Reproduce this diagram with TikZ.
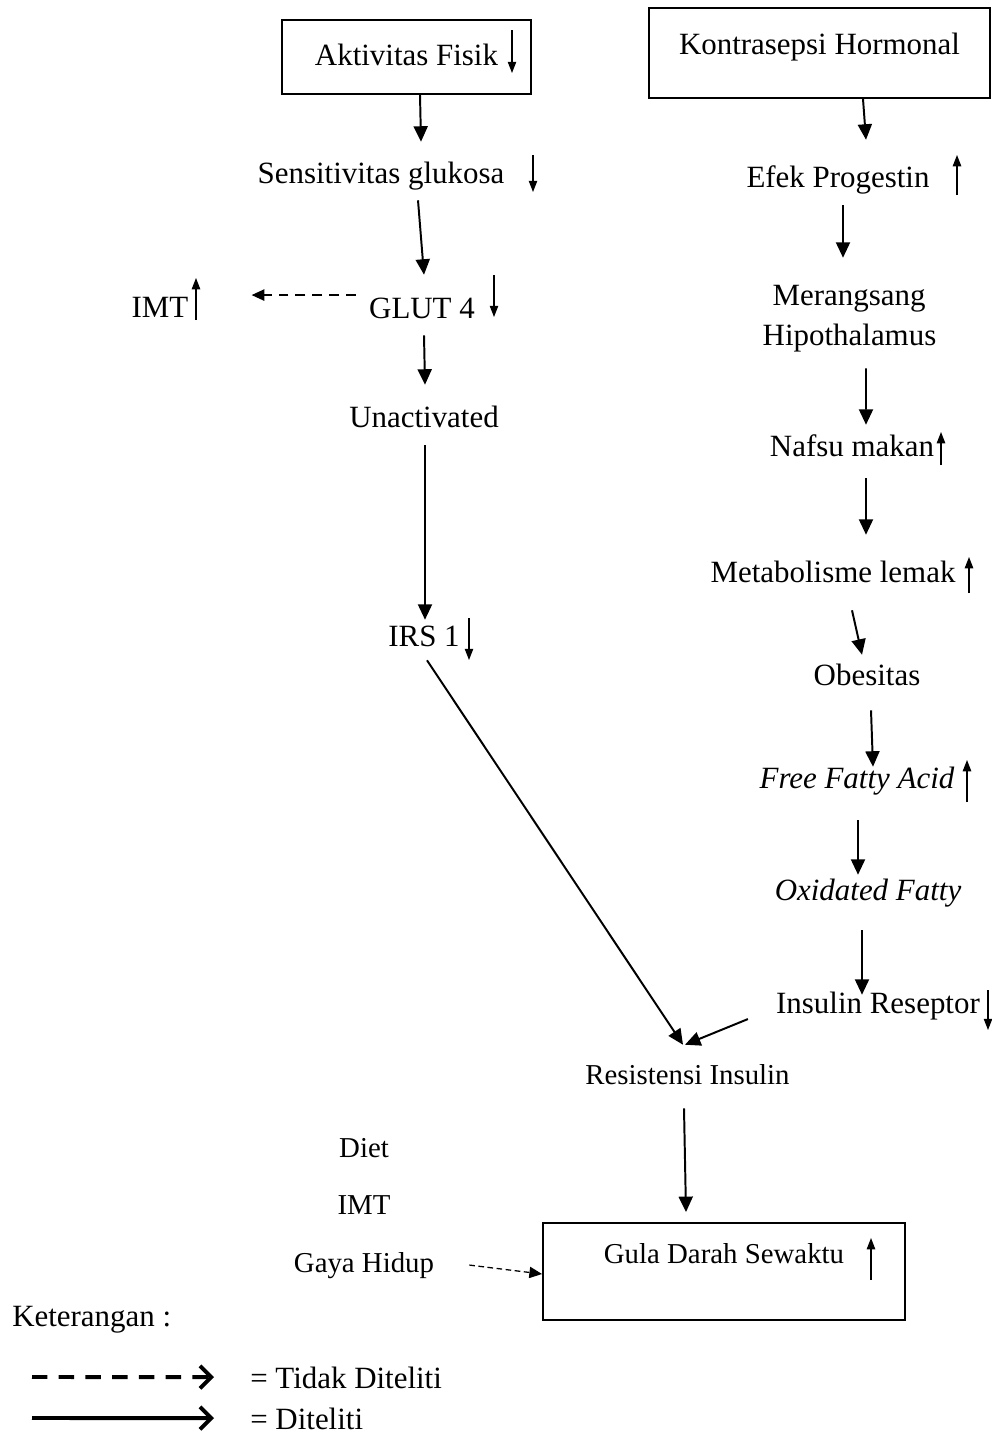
\documentclass[tikz,border=0pt]{standalone}
\usepackage{fontspec}
\setmainfont{Liberation Serif}
\usetikzlibrary{arrows.meta}

\newcommand{\besar}{\fontsize{22}{26}\selectfont}
\newcommand{\sedang}{\fontsize{20.5}{24}\selectfont}

\tikzset{
  kotak/.style={draw, line width=1.3pt, inner sep=0pt, text height=16pt, font=\besar},
  teks/.style={inner sep=0pt, anchor=base, text height=16pt, text depth=4pt, font=\besar},
  teks kecil/.style={teks, font=\sedang},
  alur/.style={line width=1.4pt, -{Triangle[length=11pt,width=10pt]}},
  alur putus/.style={line width=1.1pt, dash pattern=on 7pt off 5pt, -{Triangle[length=9pt,width=8pt]}},
  indik/.style={line width=0.8pt, -{Triangle[length=8pt,width=6pt]}},
  legenda/.style={line width=2.8pt, -{Straight Barb[length=8pt,width=16pt]}}
}

\begin{document}
\begin{tikzpicture}[x=0.025cm, y=-0.025cm]
  \useasboundingbox (0,0) rectangle (992,1434);

  % kolom kiri
  \node[kotak, minimum width=6.225cm, minimum height=1.85cm, text depth=4pt] (aktiv) at (406.5,57) {Aktivitas Fisik};
  \node[teks] (sens) at (381,183) {Sensitivitas glukosa};
  \node[teks] (glut) at (422,318) {GLUT 4};
  \node[teks] (imt) at (160,317) {IMT};
  \node[teks] (unact) at (424,427) {Unactivated};
  \node[teks] (irs) at (424,646) {IRS 1};

  % kolom kanan
  \node[kotak, minimum width=8.525cm, minimum height=2.25cm, text depth=13.2pt] (kontra) at (819.5,53) {Kontrasepsi Hormonal};
  \node[teks] (efek) at (838,187) {Efek Progestin};
  \node[teks] (merang) at (849,305) {Merangsang};
  \node[teks] (hipo) at (849.5,345) {Hipothalamus};
  \node[teks] (nafsu) at (852,456) {Nafsu makan};
  \node[teks] (metab) at (833,582) {Metabolisme lemak};
  \node[teks] (obes) at (867,685) {Obesitas};
  \node[teks] (ffa) at (857,788) {\textit{Free Fatty Acid}};
  \node[teks] (oxid) at (868,900) {\textit{Oxidated Fatty}};
  \node[teks] (insrec) at (878,1013) {Insulin Reseptor};

  % bawah
  \node[teks kecil] (resist) at (687.5,1084) {Resistensi Insulin};
  \node[teks kecil] (diet) at (364,1157) {Diet};
  \node[teks kecil] (imtb) at (364,1214) {IMT};
  \node[teks kecil] (gaya) at (364,1272) {Gaya Hidup};
  \node[kotak, font=\sedang, minimum width=9.05cm, minimum height=2.425cm, text depth=26.7pt] (gula) at (724,1271.5) {Gula Darah Sewaktu};

  % panah naik / turun
  \draw[indik] (512,30) -- (512,73);
  \draw[indik] (533,155) -- (533,192);
  \draw[indik] (494,275) -- (494,317);
  \draw[indik] (196,320) -- (196,278);
  \draw[indik] (469,618) -- (469,660);
  \draw[indik] (957,195) -- (957,155);
  \draw[indik] (941,465) -- (941,432);
  \draw[indik] (969,593) -- (969,557);
  \draw[indik] (967,802) -- (967,760);
  \draw[indik] (988,990) -- (988,1030);
  \draw[indik] (871,1280) -- (871,1238);

  % alur
  \draw[alur] ([shift={(13.5,0)}]aktiv.south) -- ([shift={(40,-18.5)}]sens.north);
  \draw[alur] ([shift={(37,11.4)}]sens.south) -- ([shift={(2,-20.5)}]glut.north);
  \draw[alur putus] ([shift={(-13,-14.5)}]glut.west) -- ([shift={(63,-13.5)}]imt.east);
  \draw[alur] ([shift={(2,11.4)}]glut.south) -- ([shift={(1,-19.5)}]unact.north);
  \draw[alur] ([shift={(1,12.4)}]unact.south) -- ([shift={(1,-3.5)}]irs.north);
  \draw[alur] ([shift={(3,8.4)}]irs.south) -- ([shift={(-4.5,-16.5)}]resist.north);

  \draw[alur] ([shift={(43.5,0)}]kontra.south) -- ([shift={(28,-24.5)}]efek.north);
  \draw[alur] ([shift={(5,12.4)}]efek.south) -- ([shift={(-6,-24.5)}]merang.north);
  \draw[alur] ([shift={(16.5,17.4)}]hipo.south) -- ([shift={(14,-8.5)}]nafsu.north);
  \draw[alur] ([shift={(14,16.4)}]nafsu.south) -- ([shift={(33,-24.5)}]metab.north);
  \draw[alur] ([shift={(19,22.4)}]metab.south) -- ([shift={(-5,-7.5)}]obes.north);
  \draw[alur] ([shift={(4,19.4)}]obes.south) -- ([shift={(16,1.5)}]ffa.north);
  \draw[alur] ([shift={(1,26.4)}]ffa.south) -- ([shift={(-10,-2.5)}]oxid.north);
  \draw[alur] ([shift={(-6,24.4)}]oxid.south) -- ([shift={(-16,4.5)}]insrec.north);
  \draw[alur] ([shift={(-28,14.5)}]insrec.west) -- ([shift={(-2.5,-16.5)}]resist.north);

  \draw[alur] ([shift={(-3.5,18.4)}]resist.south) -- ([shift={(-38,-10)}]gula.north);
  \draw[alur putus, line width=0.9pt, dash pattern=on 4pt off 2.5pt] ([shift={(35,1.5)}]gaya.east) -- ([shift={(0,2.5)}]gula.west);

  % keterangan
  \node[teks, anchor=base west] (ket) at (12,1326) {Keterangan :};
  \coordinate (l1) at (32,1377);
  \coordinate (l2) at (32,1418);
  \node[teks, anchor=base west] (tidak) at (250,1388) {= Tidak Diteliti};
  \node[teks, anchor=base west] (teliti) at (250,1429) {= Diteliti};
  \draw[legenda, dash pattern=on 11pt off 8pt] (l1) -- ([shift={(-36,-2.5)}]tidak.west);
  \draw[legenda] (l2) -- ([shift={(-36,-2.5)}]teliti.west);
\end{tikzpicture}
\end{document}
